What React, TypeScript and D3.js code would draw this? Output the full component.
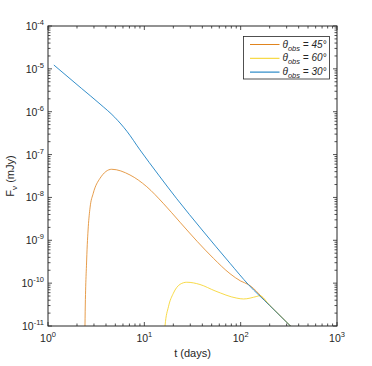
import React from "react";
import * as d3 from "d3";

// theta_obs = 30 deg (blue)
const blueT = [1.15, 2.22, 3.47, 4.93, 6.61, 9.0, 14.1, 21.7, 39.8, 77.6, 120, 200, 326, 360];
const blueF = [1.23e-5, 3.52e-6, 1.51e-6, 7.41e-7, 3.47e-7, 1.29e-7, 3.31e-8, 9.33e-9, 1.74e-9, 2.9e-10, 9.3e-11, 3.02e-11, 1.02e-11, 8.2e-12];
// theta_obs = 45 deg (orange)
const orangeT = [2.4, 2.42, 2.52, 2.62, 2.73, 2.95, 3.47, 4.58, 7.1, 10.6, 15.7, 23.5, 35.5, 52.1, 77.6, 100, 120, 200, 326, 360];
const orangeF = [1e-12, 1e-11, 3.47e-10, 2.07e-9, 5.68e-9, 1.25e-8, 2.8e-8, 4.54e-8, 3.34e-8, 1.78e-8, 7.3e-9, 2.63e-9, 9.33e-10, 3.8e-10, 1.66e-10, 1.12e-10, 9.3e-11, 3.02e-11, 1.02e-11, 8.2e-12];
// theta_obs = 60 deg (yellow)
const yellowT = [16.3, 16.4, 17.8, 20.0, 23.5, 27.6, 37.8, 54.2, 91.2, 107, 147, 158, 200, 326, 360];
const yellowF = [1e-12, 1e-11, 2.82e-11, 5.8e-11, 9.4e-11, 1.05e-10, 9.3e-11, 6.6e-11, 4.47e-11, 4.27e-11, 4.9e-11, 5.1e-11, 3.02e-11, 1.02e-11, 8.2e-12];

const xExps = [0, 1, 2, 3];
const yExps = [-11, -10, -9, -8, -7, -6, -5, -4];
const legendAngles = ["45°", "60°", "30°"];

const W = 372, H = 366;
const L = 48, R = 337, T = 26, B = 326;
const FONT = "'Liberation Sans', Arial, Helvetica, sans-serif";
const INK = "#262626";

export default function App() {
  const x = d3.scaleLog().domain([1, 1000]).range([L, R]);
  const y = d3.scaleLog().domain([1e-11, 1e-4]).range([B, T]);
  const line = d3
    .line<[number, number]>()
    .x((d) => x(d[0]))
    .y((d) => y(d[1]))
    .curve(d3.curveMonotoneX);
  const mk = (ts: number[], fs: number[]) => ts.map((t, i) => [t, fs[i]] as [number, number]);
  const series = [
    { name: "45", color: "#E0841E", d: line(mk(orangeT, orangeF)) },
    { name: "60", color: "#F5D11C", d: line(mk(yellowT, yellowF)) },
    { name: "30", color: "#0072BD", d: line(mk(blueT, blueF)) },
  ];
  const xTicks = x.ticks();
  const yTicks = y.ticks();
  const isMajor = (v: number) => Math.abs(Math.log10(v) - Math.round(Math.log10(v))) < 1e-9;
  const major = 4, minor = 2.5;

  return (
    <svg width={W} height={H} style={{ position: "absolute", left: 0, top: 0, background: "#fff" }} fontFamily={FONT}>
      <rect x={0} y={0} width={W} height={H} fill="#fff" />
      <defs>
        <clipPath id="plotclip">
          <rect x={L} y={T} width={R - L} height={B - T} />
        </clipPath>
      </defs>
      <rect x={L} y={T} width={R - L} height={B - T} fill="#fff" />
      <g clipPath="url(#plotclip)" fill="none">
        {series.map((s) => (
          <path key={s.name} d={s.d || ""} stroke={s.color} strokeWidth={0.8} />
        ))}
      </g>
      <rect x={L} y={T} width={R - L} height={B - T} fill="none" stroke={INK} strokeWidth={1} />
      {xTicks.map((v, i) => {
        const px = x(v);
        const len = isMajor(v) ? major : minor;
        return (
          <g key={"xt" + i} stroke={INK} strokeWidth={0.8}>
            <line x1={px} x2={px} y1={B} y2={B - len} />
            <line x1={px} x2={px} y1={T} y2={T + len} />
          </g>
        );
      })}
      {yTicks.map((v, i) => {
        const py = y(v);
        const len = isMajor(v) ? major : minor;
        return (
          <g key={"yt" + i} stroke={INK} strokeWidth={0.8}>
            <line x1={L} x2={L + len} y1={py} y2={py} />
            <line x1={R} x2={R - len} y1={py} y2={py} />
          </g>
        );
      })}
      {xExps.map((e) => (
        <text key={"xl" + e} x={x(Math.pow(10, e))} y={342} textAnchor="middle" fontSize={10.5} fill={INK}>
          10
          <tspan fontSize={7.5} dy={-5}>{String(e)}</tspan>
        </text>
      ))}
      {yExps.map((e) => (
        <text key={"yl" + e} x={44} y={y(Math.pow(10, e)) + 4} textAnchor="end" fontSize={10.5} fill={INK}>
          10
          <tspan fontSize={7.5} dy={-5}>{String(e)}</tspan>
        </text>
      ))}
      <text x={(L + R) / 2} y={357} textAnchor="middle" fontSize={11} fill={INK}>
        t (days)
      </text>
      <text transform={`translate(14,${(T + B) / 2}) rotate(-90)`} textAnchor="middle" fontSize={11} fill={INK}>
        F
        <tspan fontSize={8} dy={3}>ν</tspan>
        <tspan dy={-3}> (mJy)</tspan>
      </text>
      <rect x={243.5} y={36.5} width={86} height={42.5} fill="#fff" stroke={INK} strokeWidth={0.8} />
      {series.map((s, i) => {
        const cy = 44.5 + i * 13.8;
        return (
          <g key={"lg" + s.name}>
            <line x1={250} x2={279.5} y1={cy} y2={cy} stroke={s.color} strokeWidth={1} />
            <text x={282.5} y={cy + 3} fontSize={10} fill={INK} fontStyle="italic">
              θ
              <tspan fontSize={7.5} dy={3}>obs</tspan>
              <tspan dy={-3}>{" = " + legendAngles[i]}</tspan>
            </text>
          </g>
        );
      })}
    </svg>
  );
}
